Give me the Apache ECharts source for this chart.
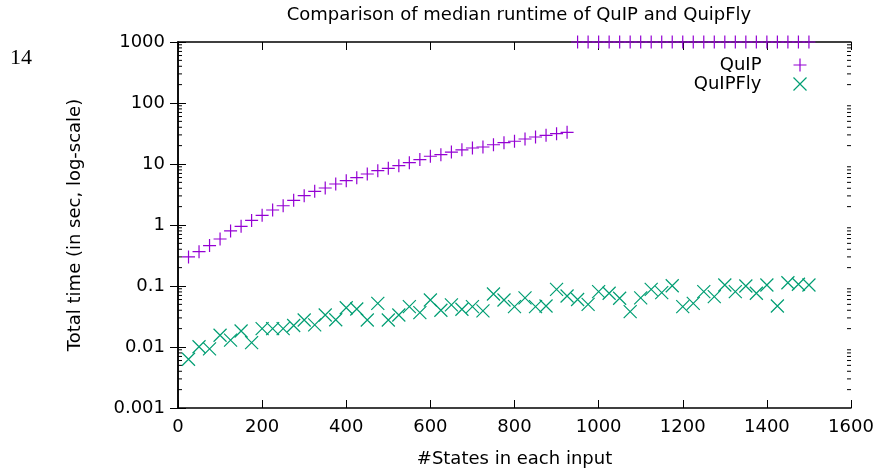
<!DOCTYPE html>
<html>
<head>
<meta charset="utf-8">
<script src="https://cdn.jsdelivr.net/npm/echarts@6/dist/echarts.min.js"></script>
<style>
html,body{margin:0;padding:0;background:#fff;}
#c{width:879px;height:474px;}
</style>
</head>
<body>
<div id="c"></div>
<script>
const statesX = [25,50,75,100,125,150,175,200,225,250,275,300,325,350,375,400,425,450,475,500,
  525,550,575,600,625,650,675,700,725,750,775,800,825,850,875,900,925,950,975,1000,
  1025,1050,1075,1100,1125,1150,1175,1200,1225,1250,1275,1300,1325,1350,1375,1400,1425,1450,1475,1500];
const quipTimes = [0.30,0.365,0.46,0.59,0.80,0.95,1.19,1.44,1.76,2.07,2.54,3.02,3.57,4.04,4.70,5.32,5.96,6.85,7.76,8.5,
  9.4,10.5,11.8,13.4,14.2,15.7,17.1,18.3,19.0,20.7,22.4,23.6,25.7,27.7,29.5,31.4,33.1,1000,1000,1000,
  1000,1000,1000,1000,1000,1000,1000,1000,1000,1000,1000,1000,1000,1000,1000,1000,1000,1000,1000,1000];
const quipflyTimes = [0.0063,0.0101,0.0093,0.0156,0.013,0.0183,0.0118,0.020,0.020,0.020,0.0225,0.0277,0.023,0.0335,0.028,0.044,0.042,0.0277,0.052,0.0277,
  0.0335,0.046,0.0366,0.059,0.040,0.049,0.0415,0.046,0.039,0.074,0.059,0.046,0.064,0.046,0.047,0.088,0.0685,0.060,0.050,0.081,
  0.076,0.063,0.038,0.064,0.088,0.078,0.101,0.046,0.052,0.081,0.067,0.104,0.081,0.100,0.076,0.104,0.047,0.113,0.107,0.104];
const xTicks = [0,200,400,600,800,1000,1200,1400,1600];
const yTicks = [0.001,0.01,0.1,1,10,100,1000];

const FONT = 'DejaVu Sans';
const FS = 18;
const PLUS = 'path://M0,5L10,5M5,0L5,10';
const CROSS = 'path://M0,0L10,10M10,0L0,10';
const purple = '#9400d3';
const green = '#009e73';

const chart = echarts.init(document.getElementById('c'), null, {renderer:'canvas'});
const fmtY = v => String(parseFloat(Number(v).toPrecision(3)));
const fmtX = v => String(Math.round(v));

const option = {
  animation: false,
  backgroundColor: '#fff',
  textStyle: {fontFamily: FONT},
  title: {
    text: 'Comparison of median runtime of QuIP and QuipFly',
    left: 514, top: 1, textAlign: 'center',
    textStyle: {fontFamily: FONT, fontSize: FS, fontWeight: 'normal', color: '#000'}
  },
  graphic: [{
    type: 'text', left: 10, top: 47,
    style: {text: '14', fontFamily: 'Liberation Serif', fontSize: 22, fill: '#000'}
  }],
  legend: {
    orient: 'vertical', right: 65, top: 51, align: 'right',
    itemWidth: 13, itemHeight: 13, itemGap: 1,
    textStyle: {fontFamily: FONT, fontSize: FS, color: '#000', padding: [0, 27, 0, 0]},
    data: [
      {name: 'QuIP', icon: PLUS, itemStyle: {color: 'none', borderColor: purple, borderWidth: 1.2}},
      {name: 'QuIPFly', icon: CROSS, itemStyle: {color: 'none', borderColor: green, borderWidth: 1.2}}
    ]
  },
  grid: {left: 178, right: 28, top: 42, bottom: 66, containLabel: false},
  xAxis: [{
    type: 'value', min: 0, max: 1600, interval: 200,
    name: '#States in each input', nameLocation: 'middle', nameGap: 42,
    nameTextStyle: {fontFamily: FONT, fontSize: FS, color: '#000'},
    axisLine: {show: true, lineStyle: {color: '#000', width: 1.5}},
    axisTick: {show: true, inside: true, length: 8, lineStyle: {color: '#000', width: 1}},
    axisLabel: {fontFamily: FONT, fontSize: FS, color: '#000', margin: 10, formatter: fmtX},
    splitLine: {show: false}
  }, {
    type: 'value', min: 0, max: 1600, interval: 200, position: 'top',
    axisLine: {show: true, lineStyle: {color: '#000', width: 1.5}},
    axisTick: {show: true, inside: true, length: 8, lineStyle: {color: '#000', width: 1}},
    axisLabel: {show: false}, splitLine: {show: false}
  }],
  yAxis: [{
    type: 'log', logBase: 10, min: 0.001, max: 1000, interval: 1,
    name: 'Total time (in sec, log-scale)', nameLocation: 'middle', nameGap: 94,
    nameTextStyle: {fontFamily: FONT, fontSize: FS, color: '#000'},
    axisLine: {show: true, lineStyle: {color: '#000', width: 1.5}},
    axisTick: {show: true, inside: true, length: 8, lineStyle: {color: '#000', width: 1}},
    axisLabel: {fontFamily: FONT, fontSize: FS, color: '#000', margin: 13, formatter: fmtY},
    splitLine: {show: false}
  }, {
    type: 'log', logBase: 10, min: 0.001, max: 1000, interval: 1, position: 'right',
    axisLine: {show: true, lineStyle: {color: '#000', width: 1.5}},
    axisTick: {show: true, inside: true, length: 8, lineStyle: {color: '#000', width: 1}},
    axisLabel: {show: false}, splitLine: {show: false}
  }],
  series: [{
    name: 'QuIP', type: 'scatter', clip: false,
    symbol: PLUS, symbolSize: 13,
    itemStyle: {color: 'none', borderColor: purple, borderWidth: 1.2, opacity: 1},
    data: statesX.map((x, i) => [x, quipTimes[i]])
  }, {
    name: 'QuIPFly', type: 'scatter', clip: false,
    symbol: CROSS, symbolSize: 13,
    itemStyle: {color: 'none', borderColor: green, borderWidth: 1.2, opacity: 1},
    data: statesX.map((x, i) => [x, quipflyTimes[i]])
  }]
};
chart.setOption(option);

// gnuplot-style log minor ticks (2..9 per decade) on both vertical borders
const xl = chart.convertToPixel({xAxisIndex: 0}, 0);
const xr = chart.convertToPixel({xAxisIndex: 0}, 1600);
const minor = [];
for (let k = 0; k < yTicks.length - 1; k++) {
  for (let m = 2; m <= 9; m++) {
    const v = yTicks[k] * m;
    const py = chart.convertToPixel({yAxisIndex: 0}, v);
    minor.push({type: 'line', silent: true, shape: {x1: xl, y1: py, x2: xl + 4, y2: py},
      style: {stroke: '#000', lineWidth: 1}});
    minor.push({type: 'line', silent: true, shape: {x1: xr, y1: py, x2: xr - 4, y2: py},
      style: {stroke: '#000', lineWidth: 1}});
  }
}
chart.setOption({graphic: option.graphic.concat(minor)});
</script>
</body>
</html>
